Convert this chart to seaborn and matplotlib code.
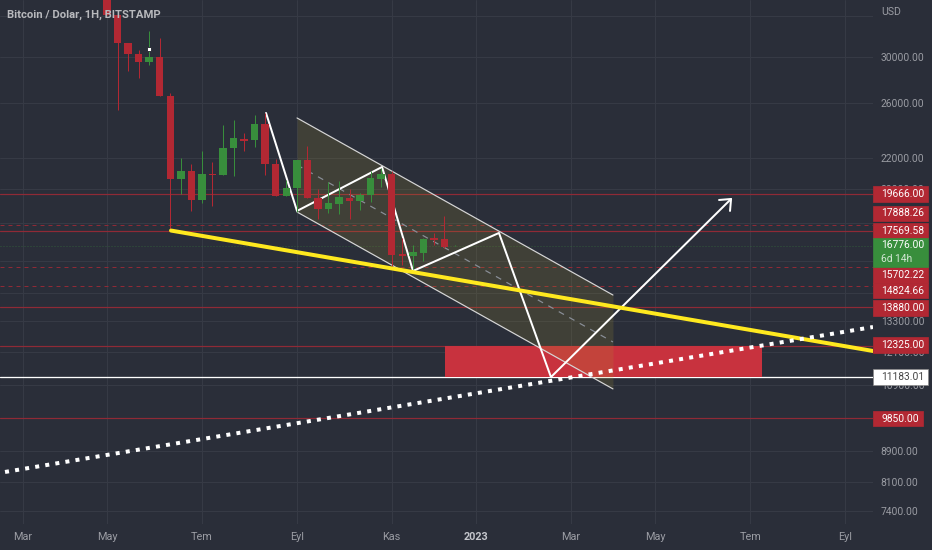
import matplotlib.pyplot as plt
from matplotlib.patches import Rectangle
from matplotlib.ticker import NullFormatter
import numpy as np
import seaborn as sns

# weekly candles, first one is the May tick
opens = [37000, 34146, 31322, 30279, 29541, 30000, 26602, 20599, 21112, 19305, 20916, 20853, 22662, 23298, 23227, 24402, 21570,
         19544, 20033, 21839, 19426, 18778, 19068, 19426, 19245, 19605, 20599, 20916, 16345, 16246, 16394, 17172, 17119, 16753]
closes = [34146, 31322, 30279, 29541, 30000, 26602, 20599, 21112, 19305, 20916, 20853, 22662, 23369, 23157, 24402, 21570, 19544,
          20033, 21839, 19426, 18778, 19128, 19485, 19245, 19605, 20660, 20916, 16296, 16246, 16446, 17119, 17067, 16700, 16776]
highs = [37000, 34146, 31322, 30654, 32503, 31809, 26846, 21976, 21570, 22452, 21706, 24327, 24705, 23733, 25089, 25244, 21907,
         20532, 21839, 22802, 19972, 20406, 20472, 19972, 19729, 21112, 21306, 21112, 17172, 16806, 17172, 17439, 18377, 16806]
lows = [34146, 25480, 28733, 28119, 29268, 26602, 17569, 19666, 18664, 19128, 18950, 20853, 20789, 22452, 22732, 20853, 19544,
        19544, 18604, 19426, 18207, 18547, 18490, 18207, 18719, 19186, 20094, 15654, 15802, 15605, 15997, 16806, 16649, 16753]

month_labels = ["Mar", "May", "Tem", "Eyl", "Kas", "2023", "Mar", "May", "Tem", "Eyl"]
month_weeks = [-8, 0, 9, 18, 27, 35, 44, 52, 61, 70]

grid_prices = [34000, 30000, 26000, 22000, 20000, 18000, 16000, 14500, 13300, 12100, 10900, 8900, 8100, 7400]
grid_labels = ["", "30000.00", "26000.00", "22000.00", "20000.00", "", "", "", "13300.00", "12100.00", "10900.00",
               "8900.00", "8100.00", "7400.00"]

solid_levels = [19666, 17569, 13880, 12325, 9850]
dashed_levels = [17888, 15702, 14824]
current_price = 16776
box_low = 11183
box_high = 12325
box_weeks = [32.05, 62.1]

yellow_x = [6.07, 72.64]
yellow_y = [17569, 12120]
dotted_x = [-9.67, 72.64]
dotted_y = [8347, 13050]
zigzag_x = [15.08, 18.02, 26.08, 29.02, 37.17, 42.1, 59.18]
zigzag_y = [25244, 18664, 21373, 15510, 17439, 11183, 19365]
arrow_x = [58.04, 59.18, 59.08]
arrow_y = [19305, 19365, 18664]
channel_x = [18.02, 47.98]
channel_top = [24859, 14402]
channel_mid = [21505, 12462]
channel_bot = [18604, 10783]

# tag text, top px, height px, right px, colours
tags = [
    ("19666.00", 186, 16, 928, "#b22833", "white"),
    ("17888.26", 206, 15, 928, "#b22833", "white"),
    ("17569.58", 223, 15, 928, "#b22833", "white"),
    ("15702.22", 267, 16, 928, "#b22833", "white"),
    ("14824.66", 283, 15, 928, "#b22833", "white"),
    ("13880.00", 300, 16, 928, "#b22833", "white"),
    ("12325.00", 337, 16, 928, "#b22833", "white"),
    ("11183.01", 369, 16, 928, "white", "#444444"),
    ("9850.00", 411, 15, 923, "#b22833", "white"),
]

BG = "#2a2e39"
GRID = "#363a45"
RED = "#b22833"
LEVEL_RED = "#8f2a36"
GREEN = "#388e3c"
AXIS_TEXT = "#9a9ca3"
W, H = 932, 550

sns.set_theme(style="dark", rc={"figure.facecolor": BG, "axes.facecolor": BG, "savefig.facecolor": BG})
plt.rcParams["font.family"] = ["Roboto", "DejaVu Sans"]


def px(n):
    return n * 0.72


def draw_line(ax, x, y, color, width, z, **kws):
    sns.lineplot(x=x, y=y, sort=False, estimator=None, color=color, linewidth=px(width), zorder=z, legend=False, ax=ax, **kws)


fig = plt.figure(figsize=(W / 100, H / 100), dpi=100)
ax = fig.add_axes([0, 26 / H, 873 / W, 524 / H])
ax.set_yscale("log")

# price levels
for level in solid_levels:
    ax.axhline(level, color=LEVEL_RED, lw=px(1.2), zorder=1.5)
for level in dashed_levels:
    ax.axhline(level, color=LEVEL_RED, lw=px(1), ls=(0, (4, 4)), zorder=1.5)
ax.axhline(current_price, color=GREEN, lw=px(1), ls=(0, (1, 2)), alpha=0.45, zorder=1.5)
ax.axhline(box_low, color="white", lw=px(1.3), zorder=1.2)

ax.fill_between(box_weeks, box_low, box_high, color="#c8323e", lw=0, zorder=1.6)

# channel
ax.fill_between(channel_x, channel_bot, channel_top, color="#af9932", alpha=0.17, lw=0, zorder=1.8)
draw_line(ax, channel_x, channel_top, "#d6d6d6", 1.2, 2)
draw_line(ax, channel_x, channel_bot, "#d6d6d6", 1.2, 2)
draw_line(ax, channel_x, channel_mid, "#8a8f98", 1.2, 2, linestyle=(0, (5, 5)))

draw_line(ax, zigzag_x, zigzag_y, "white", 2, 2.5)
draw_line(ax, arrow_x, arrow_y, "white", 2, 2.5)

# candles
weeks = np.arange(len(opens))
o = np.array(opens)
c = np.array(closes)
colors = [GREEN if up else RED for up in c >= o]
ax.vlines(weeks, lows, highs, colors=colors, lw=px(1), zorder=3)
ax.bar(weeks, np.abs(c - o), bottom=np.minimum(o, c), width=0.71, color=colors, lw=0, zorder=3.1)

ax.plot([4], [30749], marker="s", ms=px(5), mfc="white", mec="#20232c", mew=0.6, zorder=3.5)

draw_line(ax, yellow_x, yellow_y, "#ffe91f", 4, 4)
draw_line(ax, dotted_x, dotted_y, "white", 4, 5, linestyle=(0, (1, 1.55)))

ax.set_xlim(-10.147, 72.64)
ax.set_ylim(7110, 35762)
ax.yaxis.tick_right()
ax.set_yticks(grid_prices, labels=grid_labels)
ax.yaxis.set_minor_formatter(NullFormatter())
ax.minorticks_off()
ax.set_xticks(month_weeks, labels=month_labels)
ax.grid(True, color=GRID, lw=px(1))
ax.set_axisbelow(True)
ax.tick_params(axis="y", length=0, pad=5.5, labelsize=7.4, labelcolor=AXIS_TEXT)
ax.tick_params(axis="x", length=0, pad=6, labelsize=7.8, labelcolor=AXIS_TEXT)
ax.get_xticklabels()[5].set_fontweight("bold")
ax.get_xticklabels()[5].set_color("#c4c6cc")
ax.set_xlabel("")
ax.set_ylabel("")
sns.despine(ax=ax, left=True, bottom=True, top=True, right=True)

fig.text(7 / W, 1 - 15 / H, "Bitcoin / Dolar, 1H, BITSTAMP", color="#b8b9bd", fontsize=8.1, fontweight="bold", va="center")
fig.text(881 / W, 1 - 12 / H, "USD", color=AXIS_TEXT, fontsize=7.6, va="center")

# price tags on the scale
for text, top, height, right, face, ink in tags:
    fig.add_artist(Rectangle((873 / W, 1 - (top + height) / H), (right - 873) / W, height / H, transform=fig.transFigure,
                             facecolor=face, edgecolor="#8a8a8a" if face == "white" else face, lw=0.5))
    fig.text(881 / W, 1 - (top + height / 2) / H, text, color=ink, fontsize=7.4, va="center")

fig.add_artist(Rectangle((873 / W, 1 - 267 / H), 55 / W, 29 / H, transform=fig.transFigure, facecolor=GREEN, edgecolor=GREEN, lw=0.5))
fig.text(881 / W, 1 - 245 / H, "16776.00", color="white", fontsize=7.4, va="center")
fig.text(881 / W, 1 - 259 / H, "6d 14h", color="#d5e8d6", fontsize=7.4, va="center")

fig.savefig("out.png", dpi=100)
